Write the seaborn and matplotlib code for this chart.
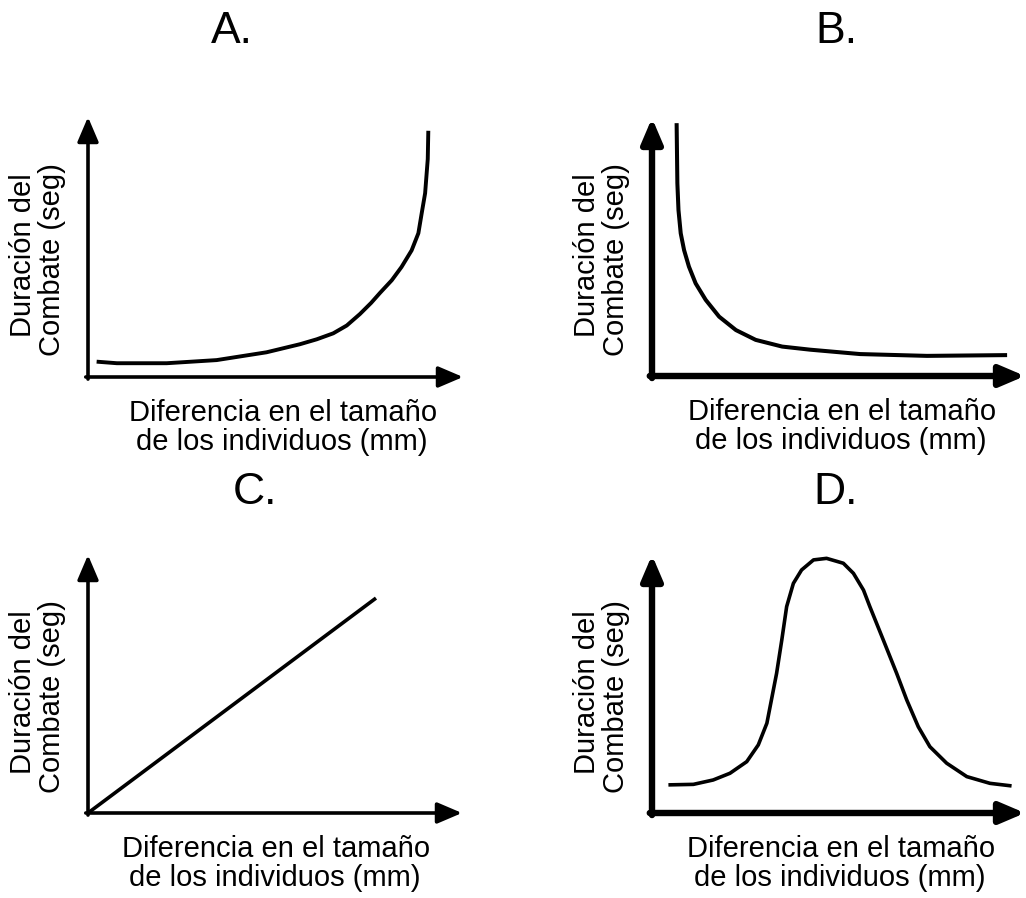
import numpy as np
import pandas as pd
import matplotlib
matplotlib.use("Agg")
import matplotlib.pyplot as plt
import seaborn as sns

# ---------------- data (axis units 0-100) ----------------
panel_titles = ["A.", "B.", "C.", "D."]
ylabel_lines = ["Duración del", "Combate (seg)"]
xlabel_lines = ["Diferencia en el tamaño", "de los individuos (mm)"]

a_x = [2.3, 7.7, 21.0, 34.3, 47.6, 56.5, 61.0, 65.4, 69.0, 72.5, 75.5, 77.9,
       81.0, 83.6, 86.3, 88.1, 89.0, 89.9, 90.6, 90.75]
a_y = [5.9, 5.3, 5.3, 6.5, 9.5, 12.6, 14.5, 16.8, 19.8, 24.2, 28.5, 32.4,
       37.2, 42.3, 48.7, 55.3, 63.1, 70.7, 83.8, 94.7]

b_x = [6.6, 6.8, 7.1, 7.7, 8.6, 9.9, 11.7, 14.4, 18.0, 22.5, 27.8, 34.9,
       42.4, 55.8, 73.7, 95.2]
b_y = [98.0, 74.7, 64.3, 55.3, 48.8, 42.4, 35.9, 29.5, 23.0, 17.8, 14.0, 11.4,
       10.2, 8.5, 7.8, 8.1]

c_x = [0.0, 77.0]
c_y = [0.0, 83.3]

d_x = [4.4, 11.1, 16.4, 20.9, 25.4, 28.5, 30.8, 33.4, 34.8, 36.1, 37.9, 40.1,
       43.3, 46.8, 51.3, 54.0, 56.7, 58.4, 62.0, 65.6, 68.3, 71.4, 74.5, 79.0,
       84.4, 90.6, 96.4]
d_y = [10.9, 11.1, 12.8, 15.4, 19.9, 26.4, 34.8, 54.1, 67.1, 80.0, 89.0, 94.2,
       98.1, 98.7, 96.8, 92.9, 86.4, 80.0, 67.1, 54.1, 43.8, 33.4, 25.7, 19.3,
       14.1, 11.5, 10.5]

curves = [(a_x, a_y), (b_x, b_y), (c_x, c_y), (d_x, d_y)]

# ---------------- styling / layout ----------------
sns.set_theme(style="white")
plt.rcParams["font.family"] = ["Liberation Sans", "DejaVu Sans"]

W, H = 1026, 898
fig = plt.figure(figsize=(W / 100, H / 100), dpi=100)
fig.patch.set_facecolor("white")

# axes boxes in pixels: left, right, top, bottom (arrow tips at right / top)
boxes = [(88, 463, 117, 377), (652, 1025, 118, 376), (88, 462, 555, 813), (652, 1025, 555, 813)]
axis_lw = [2.6, 4.6, 2.6, 4.6]
curve_lw = [2.8, 2.9, 2.6, 2.6]
title_pos = [(232, 43), (836, 43), (255, 504), (836, 504)]
xlab_cx = [283, 842, 276, 841]
LABEL_FS = 21

def fx(px):
    return px / W

def fy(py):
    return 1 - py / H

for i, ((l, r, t, b), (xs, ys)) in enumerate(zip(boxes, curves)):
    ax = fig.add_axes([fx(l), fy(b), (r - l) / W, (b - t) / H])
    df = pd.DataFrame({"x": xs, "y": ys})
    sns.lineplot(data=df, x="x", y="y", sort=False, ax=ax, color="black",
                 lw=curve_lw[i], estimator=None)
    for line in ax.get_lines():
        line.set_clip_on(False)
        line.set_solid_capstyle("butt")
        line.set_solid_joinstyle("round")
    ax.set_xlim(0, 100)
    ax.set_ylim(0, 100)
    ax.axis("off")
    ax.set_xlabel("")
    ax.set_ylabel("")
    arrow = dict(arrowstyle="-|>,head_length=0.75,head_width=0.32", color="black",
                 lw=axis_lw[i], shrinkA=0, shrinkB=0, mutation_scale=20)
    ax.annotate("", xy=(1, 0), xytext=(-0.006, 0), xycoords="axes fraction",
                textcoords="axes fraction", arrowprops=arrow, annotation_clip=False)
    ax.annotate("", xy=(0, 1), xytext=(0, -0.008), xycoords="axes fraction",
                textcoords="axes fraction", arrowprops=arrow, annotation_clip=False)

    # title
    tx, ty = title_pos[i]
    fig.text(fx(tx), fy(ty), panel_titles[i], ha="center", va="baseline",
             fontsize=32, color="black")
    # x label (two lines)
    fig.text(fx(xlab_cx[i]), fy(b + 44), xlabel_lines[0], ha="center", va="baseline",
             fontsize=LABEL_FS, color="black")
    fig.text(fx(xlab_cx[i] - 1), fy(b + 73), xlabel_lines[1], ha="center", va="baseline",
             fontsize=LABEL_FS, color="black")
    # y label (two rotated lines)
    cy = (t + b) / 2
    fig.text(fx(l - 57), fy(cy + 8), ylabel_lines[0], rotation=90, rotation_mode="anchor",
             ha="center", va="baseline", fontsize=LABEL_FS, color="black")
    fig.text(fx(l - 28), fy(cy + 13), ylabel_lines[1], rotation=90, rotation_mode="anchor",
             ha="center", va="baseline", fontsize=LABEL_FS, color="black")

fig.savefig("out.png", dpi=100, facecolor="white")
